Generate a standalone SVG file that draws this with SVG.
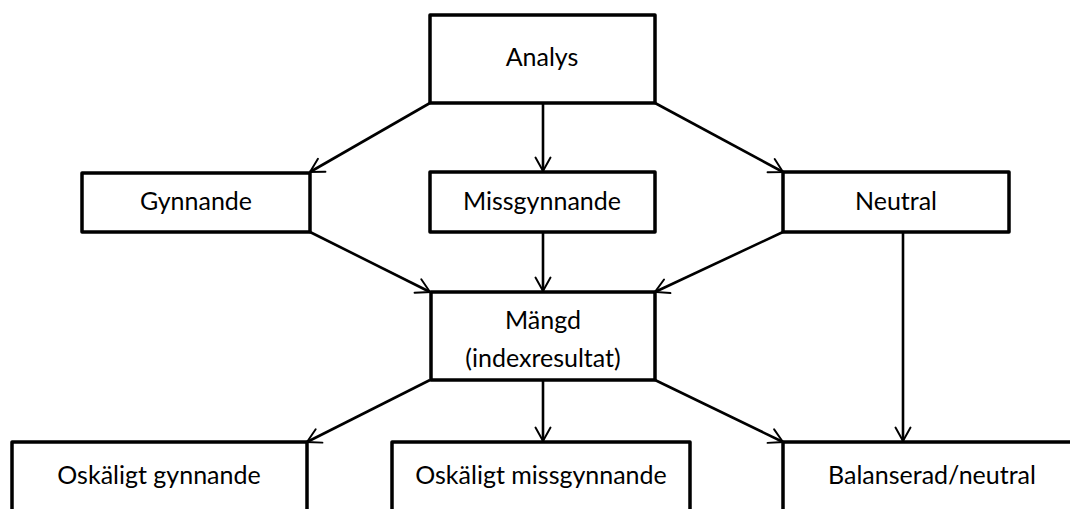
<svg xmlns="http://www.w3.org/2000/svg" width="1070" height="509" viewBox="0 0 1070 509">
<style>
.box{fill:#fff;stroke:#000;stroke-width:3.5;stroke-linejoin:round}
.lbl{font-family:Lato,"Liberation Sans",sans-serif;font-size:25px;fill:#000;text-anchor:middle}
.con{stroke:#000;stroke-width:2.6;fill:none;marker-end:url(#ah)}
</style>
<defs>
<marker id="ah" markerUnits="userSpaceOnUse" markerWidth="30" markerHeight="30" refX="0" refY="0" orient="auto" overflow="visible" viewBox="-30 -15 40 30">
<path d="M-18,-10 L0,0 L-18,10" fill="none" stroke="#000" stroke-width="2.6" stroke-linecap="round" stroke-linejoin="miter"/>
</marker>
</defs>
<rect width="1070" height="509" fill="#fff"/>
<g id="connectors">
<line class="con" x1="430" y1="103" x2="310" y2="172"/>
<line class="con" x1="543" y1="103" x2="543" y2="171"/>
<line class="con" x1="655" y1="103" x2="783" y2="172"/>
<line class="con" x1="310" y1="232" x2="430" y2="292"/>
<line class="con" x1="543" y1="232" x2="543" y2="291"/>
<line class="con" x1="783" y1="232" x2="655" y2="292"/>
<line class="con" x1="903" y1="232" x2="903" y2="441"/>
<line class="con" x1="430" y1="380" x2="307" y2="442"/>
<line class="con" x1="543" y1="380" x2="543" y2="441"/>
<line class="con" x1="655" y1="380" x2="783" y2="442"/>
</g>
<g id="analys"><rect class="box" x="430" y="15" width="225" height="88"/><text class="lbl" x="542" y="66">Analys</text></g>
<g id="gynnande"><rect class="box" x="82" y="173" width="228" height="59"/><text class="lbl" x="196" y="210">Gynnande</text></g>
<g id="missgynnande"><rect class="box" x="430" y="172" width="225" height="60"/><text class="lbl" x="542" y="210">Missgynnande</text></g>
<g id="neutral"><rect class="box" x="783" y="172" width="226" height="60"/><text class="lbl" x="896" y="210">Neutral</text></g>
<g id="mangd"><rect class="box" x="431" y="292" width="224" height="88"/><text class="lbl" x="543" y="329">Mängd</text><text class="lbl" x="543" y="367">(indexresultat)</text></g>
<g id="oskaligt-gynnande"><rect class="box" x="12" y="442" width="295" height="90"/><text class="lbl" x="159" y="484">Oskäligt gynnande</text></g>
<g id="oskaligt-missgynnande"><rect class="box" x="392" y="442" width="298" height="90"/><text class="lbl" x="541" y="484">Oskäligt missgynnande</text></g>
<g id="balanserad"><rect class="box" x="783" y="442" width="298" height="90"/><text class="lbl" x="932" y="484">Balanserad/neutral</text></g>
</svg>
